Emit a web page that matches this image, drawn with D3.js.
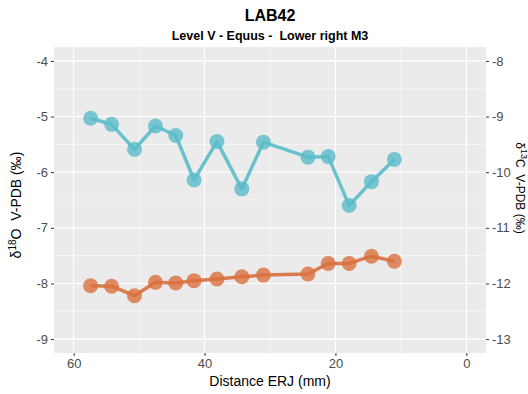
<!DOCTYPE html>
<html>
<head>
<meta charset="utf-8">
<script src="https://cdn.jsdelivr.net/npm/d3@7"></script>
<style>
  body { margin: 0; background: #fff; }
  text { font-family: "Liberation Sans", Arial, sans-serif; white-space: pre; }
</style>
</head>
<body>
<div id="chart"></div>
<script>
// Data
const distance = [57.4, 54.2, 50.7, 47.5, 44.4, 41.6, 38.1, 34.3, 31.0, 24.2, 21.1, 17.9, 14.5, 11.0];
const d18O = [-5.03, -5.14, -5.59, -5.17, -5.34, -6.14, -5.45, -6.30, -5.46, -5.73, -5.72, -6.60, -6.17, -5.77];
const d13C = [-12.04, -12.05, -12.22, -11.98, -11.99, -11.95, -11.92, -11.88, -11.85, -11.83, -11.64, -11.64, -11.51, -11.60];
const xTicks = [60, 40, 20, 0];
const xMinor = [50, 30, 10];
const yTicks = [-4, -5, -6, -7, -8, -9];
const yMinor = [-4.5, -5.5, -6.5, -7.5, -8.5];
const cOffset = 4; // d13C axis = d18O axis - 4

const W = 528, H = 394;
const panel = { left: 54, right: 486, top: 47, bottom: 353 };

const svg = d3.select("#chart").append("svg")
  .attr("width", W).attr("height", H);

const x = d3.scaleLinear().domain([63, -3]).range([panel.left, panel.right]);
const y = d3.scaleLinear().domain([-9.25, -3.75]).range([panel.bottom, panel.top]);
const yC = d3.scaleLinear().domain([-9.25 - cOffset, -3.75 - cOffset]).range([panel.bottom, panel.top]);

// Panel background
svg.append("rect")
  .attr("x", panel.left).attr("y", panel.top)
  .attr("width", panel.right - panel.left).attr("height", panel.bottom - panel.top)
  .attr("fill", "#ebebeb");

// Minor grid
svg.selectAll(".minor-x").data(xMinor).join("line")
  .attr("x1", d => x(d)).attr("x2", d => x(d))
  .attr("y1", panel.top).attr("y2", panel.bottom)
  .attr("stroke", "#fff").attr("stroke-width", 0.55);
svg.selectAll(".minor-y").data(yMinor).join("line")
  .attr("y1", d => y(d)).attr("y2", d => y(d))
  .attr("x1", panel.left).attr("x2", panel.right)
  .attr("stroke", "#fff").attr("stroke-width", 0.55);

// Major grid
svg.selectAll(".major-x").data(xTicks).join("line")
  .attr("x1", d => x(d)).attr("x2", d => x(d))
  .attr("y1", panel.top).attr("y2", panel.bottom)
  .attr("stroke", "#fff").attr("stroke-width", 1.1);
svg.selectAll(".major-y").data(yTicks).join("line")
  .attr("y1", d => y(d)).attr("y2", d => y(d))
  .attr("x1", panel.left).attr("x2", panel.right)
  .attr("stroke", "#fff").attr("stroke-width", 1.1);

// Axes
const plain = d => String(d); // keep ASCII hyphen like the reference
function styleAxis(g) {
  g.select(".domain").remove();
  g.selectAll(".tick line").attr("stroke", "#333").attr("stroke-width", 1);
  g.selectAll(".tick text").attr("fill", "#4d4d4d").style("font-size", "13px")
    .style("font-family", "Liberation Sans, Arial, sans-serif");
}

svg.append("g")
  .attr("transform", `translate(0,${panel.bottom})`)
  .call(d3.axisBottom(x).tickValues(xTicks).tickSize(3).tickPadding(3).tickFormat(plain))
  .call(styleAxis);

svg.append("g")
  .attr("transform", `translate(${panel.left},0)`)
  .call(d3.axisLeft(y).tickValues(yTicks).tickSize(3).tickPadding(3).tickFormat(plain))
  .call(styleAxis);

svg.append("g")
  .attr("transform", `translate(${panel.right},0)`)
  .call(d3.axisRight(yC).tickValues(yTicks.map(v => v - cOffset)).tickSize(3).tickPadding(3).tickFormat(plain))
  .call(styleAxis);

// Series
const series = [
  { values: d18O, scale: y, color: "#5bbccb" },
  { values: d13C, scale: yC, color: "#d9703f" }
];

const line = d3.line().x(d => x(d[0])).y(d => d[1]);

series.forEach(s => {
  const pts = distance.map((dist, i) => [dist, s.scale(s.values[i])]);
  svg.append("path")
    .datum(pts)
    .attr("fill", "none")
    .attr("stroke", s.color)
    .attr("stroke-width", 3.5)
    .attr("stroke-opacity", 0.9)
    .attr("stroke-linejoin", "round")
    .attr("d", line);
  svg.append("g").selectAll("circle").data(pts).join("circle")
    .attr("cx", d => x(d[0]))
    .attr("cy", d => d[1])
    .attr("r", 7.5)
    .attr("fill", s.color)
    .attr("fill-opacity", 0.8);
});

// Titles
svg.append("text")
  .attr("x", (panel.left + panel.right) / 2).attr("y", 21)
  .attr("text-anchor", "middle")
  .style("font-size", "16px").style("font-weight", "bold")
  .text("LAB42");

svg.append("text")
  .attr("x", (panel.left + panel.right) / 2).attr("y", 40)
  .attr("text-anchor", "middle")
  .style("font-size", "12.5px").style("font-weight", "bold")
  .text("Level V - Equus -  Lower right M3");

// X axis title
svg.append("text")
  .attr("x", (panel.left + panel.right) / 2).attr("y", 386)
  .attr("text-anchor", "middle")
  .style("font-size", "14px")
  .text("Distance ERJ (mm)");

// Left y title
const yl = svg.append("text")
  .attr("transform", `translate(21,${(panel.top + panel.bottom) / 2 + 5}) rotate(-90)`)
  .attr("text-anchor", "middle")
  .style("font-size", "14px");
yl.append("tspan").text("δ");
yl.append("tspan").attr("dy", -5).style("font-size", "10px").text("18");
yl.append("tspan").attr("dy", 5).text("O  V-PDB (‰)");

// Right y title (slightly cut off by the page edge, as in the reference)
const yr = svg.append("text")
  .attr("transform", `translate(516,188) rotate(90)`)
  .attr("text-anchor", "middle")
  .style("font-size", "12px");
yr.append("tspan").text("δ");
yr.append("tspan").attr("dy", -5).style("font-size", "9px").text("13");
yr.append("tspan").attr("dy", 5).text("C  V-PDB (‰)");
</script>
</body>
</html>
